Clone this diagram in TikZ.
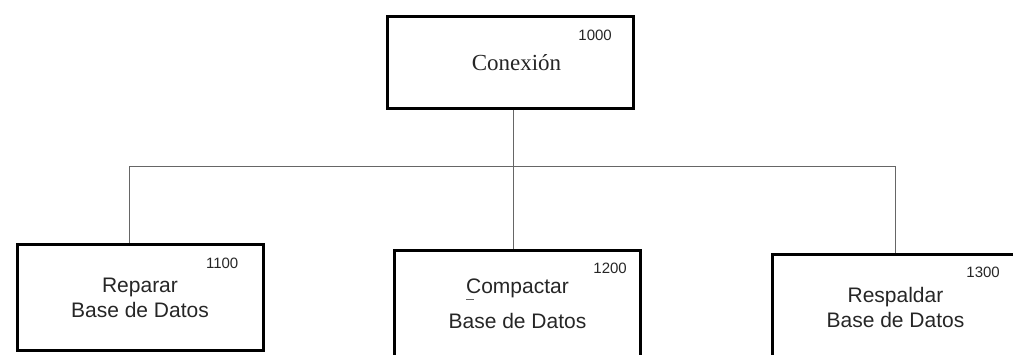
\documentclass[tikz,border=0pt]{standalone}
\usepackage{fontspec}
\setmainfont{Liberation Sans}
\newfontfamily\serifface{Liberation Serif}
\usetikzlibrary{positioning, calc}
\colorlet{ink}{black!85}

\begin{document}
\begin{tikzpicture}[
            x=1pt, y=-1pt,
            box/.style={
                rectangle,
                draw=black,
                line width=3pt,
                text=ink,
                minimum width=246pt,
                minimum height=106pt,
                align=center,
                font=\fontsize{21}{25}\selectfont
            },
            code/.style={anchor=north east, inner sep=0pt, text=ink, font=\fontsize{15}{17}\selectfont},
            link/.style={draw=black!60, line width=0.8pt}
        ]
            \clip (0,0) rectangle (1013,355);

            % Nodes
            \node[box, minimum height=92pt, font=\serifface\fontsize{23}{27}\selectfont] (conexion) at (510.5,62.5) {\hspace{12pt}Conexión};
            \node[box] (reparar) at (140,297.5) {Reparar\\Base de Datos};
            \node[box] (compactar) at (517.5,303.5) {\rlap{\raisebox{-7pt}{\color{black!60}\rule{8pt}{0.8pt}}}Compactar\\[10pt]Base de Datos};
            \node[box] (respaldar) at (895.5,307.5) {Respaldar\\Base de Datos};

            % Codes
            \node[code] (n1000) at ($(conexion.north east)+(-23,15)$) {1000};
            \node[code] (n1100) at ($(reparar.north east)+(-26,15)$) {1100};
            \node[code] (n1200) at ($(compactar.north east)+(-15,14)$) {1200};
            \node[code] (n1300) at ($(respaldar.north east)+(-20,14)$) {1300};

            % Lines
            \coordinate (bus) at (0,166);
            \draw[link] ([xshift=2.5pt]conexion.south) -- ([xshift=2.5pt]conexion.south |- bus);
            \draw[link] ([xshift=-11pt]reparar.north) |- (bus -| respaldar.north) -- (respaldar.north);
            \draw[link] ([xshift=-4.5pt]compactar.north) -- ([xshift=-4.5pt]compactar.north |- bus);
        \end{tikzpicture}
\end{document}
